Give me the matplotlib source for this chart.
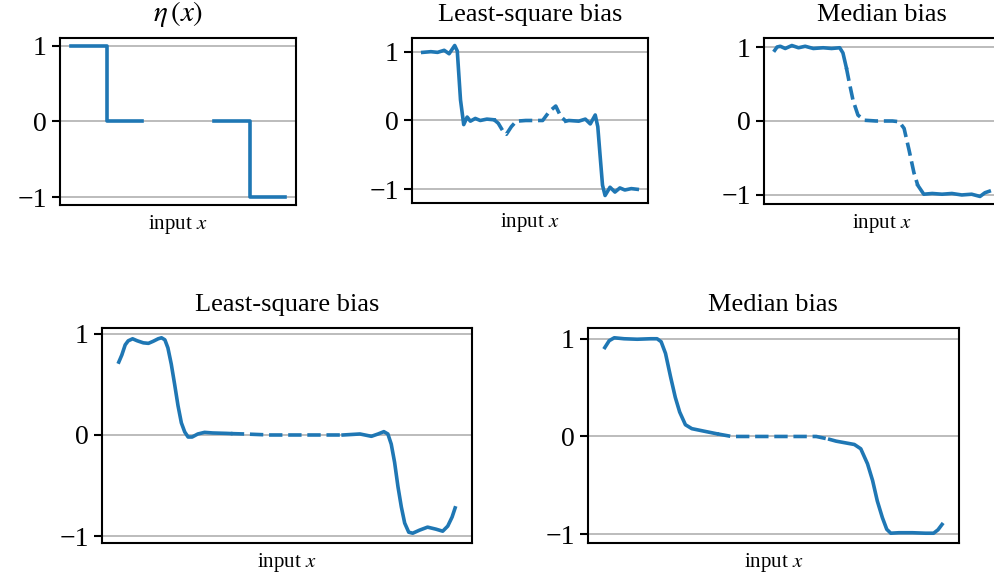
import numpy as np
import matplotlib
matplotlib.use("Agg")
import matplotlib.pyplot as plt

plt.rcParams['font.family'] = ['Liberation Serif', 'DejaVu Serif']
plt.rcParams['mathtext.fontset'] = 'stix'

# eta(x): piecewise constant target, undefined in the middle third
eta_x = [0.0, 1/6, 1/6, 1/3, np.nan, 2/3, 5/6, 5/6, 1.0]
eta_y = [1.0, 1.0, 0.0, 0.0, np.nan, 0.0, 0.0, -1.0, -1.0]

# least-square bias, fine model (top)
ls1_x = [0, 0.038, 0.069, 0.1, 0.123, 0.149, 0.161, 0.176, 0.191, 0.207, 0.222, 0.245,
         0.268, 0.299, 0.333, 0.352, 0.375, 0.39, 0.413, 0.436, 0.48, 0.52, 0.559, 0.59,
         0.62, 0.643, 0.667, 0.681, 0.727, 0.758, 0.781, 0.804, 0.816, 0.827, 0.838,
         0.85, 0.873, 0.896, 0.919, 0.942, 0.972, 1.0]
ls1_y = [0.99, 1.0, 0.99, 1.02, 0.97, 1.09, 1.01, 0.3, -0.06, 0.05, -0.01, 0.03,
         0.0, 0.02, 0.01, -0.04, -0.16, -0.2, -0.09, -0.01, 0.0, 0.0, 0.0, 0.13,
         0.21, 0.06, -0.01, 0.0, -0.01, 0.02, -0.05, 0.08, -0.09, -0.52, -0.94,
         -1.09, -0.97, -1.04, -0.98, -1.01, -0.99, -1.0]

# median bias, fine model (top)
md1_x = [0, 0.011, 0.026, 0.049, 0.08, 0.111, 0.142, 0.18, 0.226, 0.265, 0.303, 0.318,
         0.334, 0.349, 0.365, 0.388, 0.418, 0.472, 0.549, 0.58, 0.603, 0.626, 0.649,
         0.667, 0.695, 0.734, 0.78, 0.826, 0.872, 0.918, 0.957, 0.98, 1.0]
md1_y = [0.955, 1.0, 1.01, 0.98, 1.02, 0.99, 1.01, 0.98, 0.99, 0.98, 0.99, 0.92,
         0.72, 0.5, 0.28, 0.08, 0.01, 0.0, 0.0, -0.01, -0.1, -0.39, -0.7,
         -0.87, -0.99, -0.98, -0.99, -0.98, -1.0, -0.99, -1.02, -0.97, -0.95]

# least-square bias, smooth model (bottom)
ls2_x = [0, 0.009, 0.019, 0.028, 0.041, 0.055, 0.073, 0.088, 0.102, 0.117, 0.127, 0.137,
         0.146, 0.156, 0.166, 0.176, 0.186, 0.196, 0.206, 0.218, 0.235, 0.255, 0.279,
         0.319, 0.333, 0.373, 0.45, 0.55, 0.667, 0.717, 0.751, 0.771, 0.788, 0.8, 0.81,
         0.82, 0.83, 0.84, 0.85, 0.862, 0.874, 0.894, 0.918, 0.943, 0.963, 0.978,
         0.991, 1.0]
ls2_y = [0.72, 0.79, 0.89, 0.93, 0.95, 0.93, 0.91, 0.905, 0.925, 0.95, 0.96, 0.94,
         0.86, 0.70, 0.5, 0.29, 0.12, 0.03, -0.02, -0.02, 0.01, 0.026, 0.02,
         0.016, 0.014, 0.01, 0.0, 0.0, 0.0, 0.01, -0.013, 0.01, 0.033, 0.01, -0.09,
         -0.27, -0.51, -0.71, -0.87, -0.96, -0.97, -0.94, -0.91, -0.93, -0.95, -0.9,
         -0.81, -0.72]

# median bias, smooth model (bottom)
md2_x = [0, 0.013, 0.028, 0.057, 0.096, 0.136, 0.155, 0.167, 0.18, 0.195, 0.209, 0.222,
         0.239, 0.258, 0.293, 0.333, 0.376, 0.47, 0.627, 0.646, 0.667, 0.686, 0.74,
         0.759, 0.779, 0.794, 0.808, 0.823, 0.836, 0.848, 0.872, 0.912, 0.951, 0.975,
         0.988, 1.0]
md2_y = [0.91, 0.98, 1.01, 1.0, 0.995, 1.0, 1.0, 0.97, 0.85, 0.61, 0.40, 0.25,
         0.12, 0.08, 0.055, 0.027, 0.0, 0.0, 0.0, -0.014, -0.03, -0.048, -0.082,
         -0.126, -0.28, -0.45, -0.66, -0.83, -0.95, -0.99, -0.985, -0.985, -0.99, -0.99,
         -0.955, -0.9]

blue = '#1f77b4'


def style(ax, title, title_size=19):
    ax.set_title(title, fontsize=title_size, pad=12)
    ax.set_xticks([])
    ax.set_yticks([-1, 0, 1])
    ax.set_yticklabels(['\u22121', '0', '1'])
    ax.tick_params(axis='y', labelsize=20, length=6, width=1.5)
    ax.yaxis.grid(True, color='#b0b0b0', lw=1.2)
    ax.set_axisbelow(True)
    ax.set_xlabel('input $x$', fontsize=15, labelpad=6)
    for s in ax.spines.values():
        s.set_linewidth(1.5)


def draw_bias(ax, xs, ys, title):
    xs = np.array(xs)
    ys = np.array(ys)
    left = xs <= 1/3 + 0.001
    mid = (xs >= 1/3 - 0.001) & (xs <= 2/3 + 0.001)
    right = xs >= 2/3 - 0.001
    ax.plot(xs[left], ys[left], color=blue, lw=2.6)
    ax.plot(xs[mid], ys[mid], color=blue, lw=2.6, ls='--')
    ax.plot(xs[right], ys[right], color=blue, lw=2.6)
    style(ax, title)


fig = plt.figure(figsize=(9.94, 5.79), dpi=100)

ax1 = fig.add_axes([0.0604, 0.646, 0.2374, 0.2884])
ax1.plot(eta_x, eta_y, color=blue, lw=2.6)
style(ax1, r'$\eta\,(x)$', title_size=21)

ax2 = fig.add_axes([0.4145, 0.6494, 0.2374, 0.285])
draw_bias(ax2, ls1_x, ls1_y, 'Least-square bias')

ax3 = fig.add_axes([0.7686, 0.6477, 0.2374, 0.2867])
draw_bias(ax3, md1_x, md1_y, 'Median bias')

ax4 = fig.add_axes([0.1026, 0.0622, 0.3722, 0.3713])
draw_bias(ax4, ls2_x, ls2_y, 'Least-square bias')

ax5 = fig.add_axes([0.5915, 0.0622, 0.3732, 0.3713])
draw_bias(ax5, md2_x, md2_y, 'Median bias')

fig.savefig('out.png', dpi=100)
